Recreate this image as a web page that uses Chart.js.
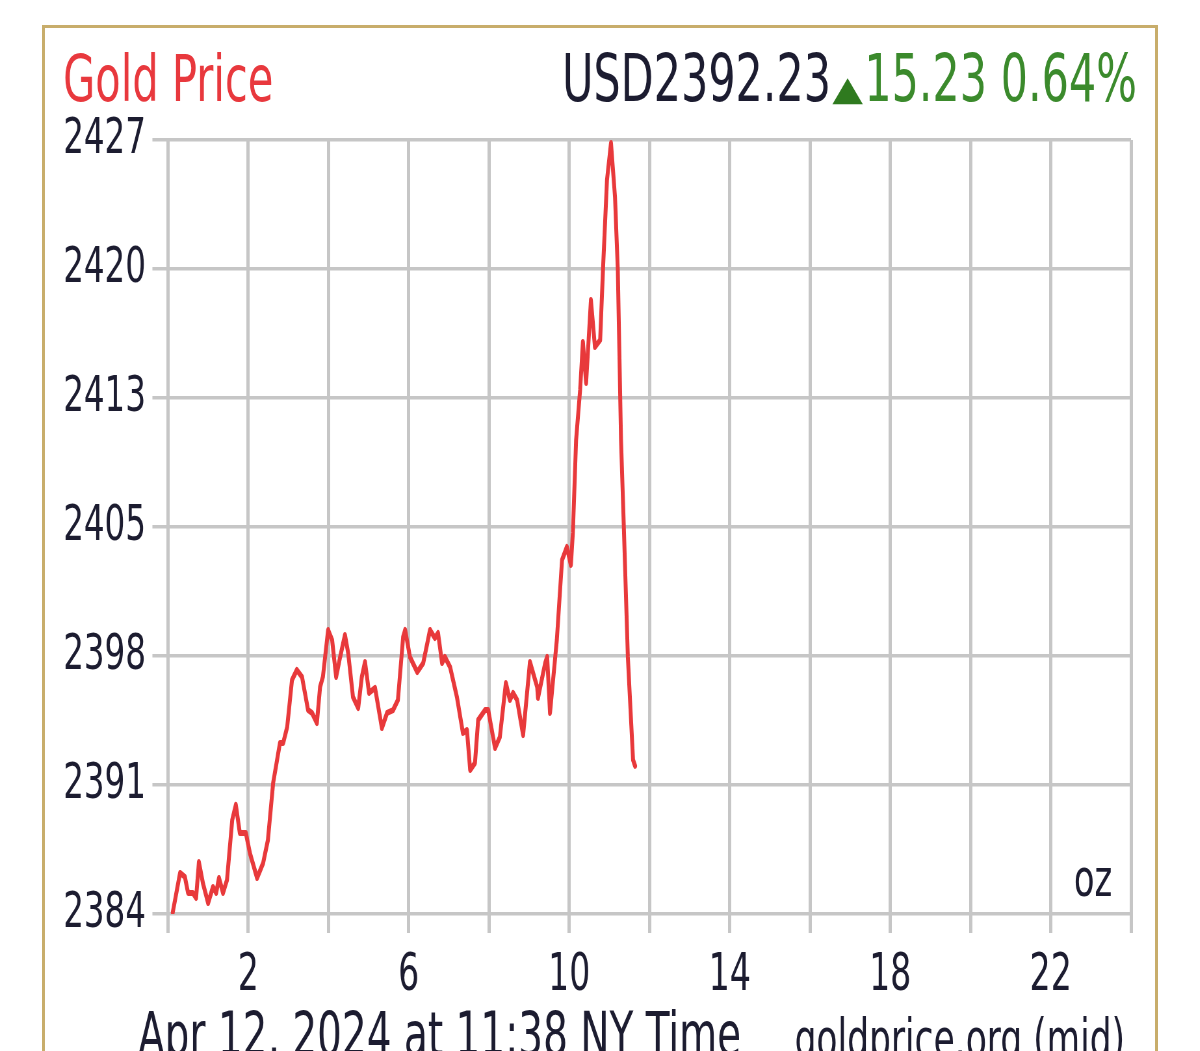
<!DOCTYPE html>
<html>
<head>
<meta charset="utf-8">
<script src="https://cdn.jsdelivr.net/npm/chart.js@4/dist/chart.umd.min.js"></script>
<style>
  html, body { margin: 0; background: #fff; overflow: hidden; }
  #page { position: relative; width: 1200px; height: 1051px; }
  #frame { position: absolute; left: 42px; top: 25px; width: 1110px; height: 1100px; border: 3px solid #c8ad6b; }
  /* the source image is horizontally squeezed, so draw wide and squeeze the canvas */
  #chart { position: absolute; left: 0; top: 0; transform: scaleX(0.65); transform-origin: 0 0; }
</style>
</head>
<body>
<div id="page">
  <div id="frame"></div>
  <canvas id="chart" width="1846" height="1051"></canvas>
</div>
<script>
// hours after midnight (NY time), Apr 12 2024
const hours = [
  0.12, 0.30, 0.42, 0.50, 0.62, 0.70, 0.77, 0.87, 1.00, 1.12,
  1.20, 1.27, 1.37, 1.47, 1.60, 1.69, 1.79, 1.94, 2.04, 2.22,
  2.37, 2.49, 2.62, 2.79, 2.87, 2.97, 3.09, 3.21, 3.34, 3.49,
  3.59, 3.71, 3.79, 3.86, 3.99, 4.09, 4.19, 4.29, 4.41, 4.49,
  4.61, 4.74, 4.83, 4.91, 5.01, 5.16, 5.33, 5.46, 5.61, 5.73,
  5.86, 5.91, 6.03, 6.21, 6.36, 6.53, 6.65, 6.73, 6.83, 6.90,
  7.03, 7.20, 7.35, 7.45, 7.53, 7.65, 7.73, 7.90, 7.98, 8.15,
  8.27, 8.42, 8.52, 8.60, 8.70, 8.85, 9.02, 9.20, 9.22, 9.40,
  9.45, 9.52, 9.69, 9.82, 9.94, 10.04, 10.09, 10.17, 10.27, 10.34,
  10.42, 10.54, 10.64, 10.77, 10.84, 10.94, 11.04, 11.14, 11.21, 11.29,
  11.36, 11.46, 11.59, 11.64,
];

// USD per oz
const prices = [
  2384.11, 2386.28, 2386.06, 2385.17, 2385.17, 2384.89, 2386.89, 2385.72, 2384.61, 2385.50,
  2385.17, 2386.00, 2385.17, 2385.89, 2389.22, 2390.06, 2388.50, 2388.50, 2387.39, 2386.00,
  2386.83, 2388.11, 2391.28, 2393.50, 2393.50, 2394.39, 2397.00, 2397.56, 2397.17, 2395.33,
  2395.17, 2394.61, 2396.61, 2397.17, 2399.78, 2399.22, 2397.17, 2398.28, 2399.50, 2398.50,
  2396.06, 2395.44, 2397.17, 2398.00, 2396.28, 2396.56, 2394.33, 2395.17, 2395.33, 2395.89,
  2399.39, 2399.78, 2398.28, 2397.44, 2397.94, 2399.78, 2399.33, 2399.61, 2397.94, 2398.28,
  2397.72, 2396.06, 2394.06, 2394.22, 2392.00, 2392.39, 2394.78, 2395.33, 2395.33, 2393.22,
  2393.83, 2396.83, 2395.89, 2396.28, 2395.89, 2393.94, 2398.00, 2396.61, 2396.00, 2397.94,
  2398.28, 2395.17, 2399.22, 2403.67, 2404.39, 2403.39, 2405.17, 2410.33, 2413.11, 2415.78,
  2413.50, 2418.11, 2415.50, 2415.89, 2419.78, 2424.78, 2426.83, 2423.83, 2419.78, 2410.33,
  2405.50, 2398.28, 2392.56, 2392.23,
];

const yMin = 2384;
const yMax = 2427;
const yTickLabels = ["2384", "2391", "2398", "2405", "2413", "2420", "2427"];
const xTickLabels = ["2", "6", "10", "14", "18", "22"];

const TITLE = "Gold Price";
const QUOTE_PRICE = "USD2392.23";
const QUOTE_ARROW = "\u25B2";
const QUOTE_CHANGE = "15.23 0.64%";
const UNIT = "oz";
const FOOT_LEFT = "Apr 12, 2024 at 11:38 NY Time";
const FOOT_RIGHT = "goldprice.org (mid)";

const SQUEEZE = 0.65;          // must match the css scaleX
const FONT = "'DejaVu Sans', Verdana, sans-serif";
const INK = "#1c1c30";
const px = x => x / SQUEEZE;   // page x -> canvas x

const COLORS = {
  line: "#e8393b",
  grid: "#c6c6c6",
  title: "#e8383d",
  green: "#3b8a2c",
  arrow: "#2f7a1f",
};

const textPlugin = {
  id: "goldText",
  afterDraw(chart) {
    const ctx = chart.ctx;
    ctx.save();
    ctx.textBaseline = "alphabetic";

    ctx.fillStyle = COLORS.title;
    ctx.font = `64px ${FONT}`;
    ctx.textAlign = "left";
    ctx.fillText(TITLE, px(63), 101);

    // quote, right aligned as one run
    const right = px(1137);
    ctx.font = `66px ${FONT}`;
    const w1 = ctx.measureText(QUOTE_PRICE).width;
    const w3 = ctx.measureText(QUOTE_CHANGE).width;
    ctx.font = `34px ${FONT}`;
    const arrowStretch = 1.8;
    const w2 = ctx.measureText(QUOTE_ARROW).width * arrowStretch + 4;
    let x = right - (w1 + w2 + w3);
    ctx.font = `66px ${FONT}`;
    ctx.fillStyle = INK;
    ctx.fillText(QUOTE_PRICE, x, 101);
    x += w1;
    ctx.save();
    ctx.translate(x + 2, 100);
    ctx.scale(arrowStretch, 1);
    ctx.font = `34px ${FONT}`;
    ctx.fillStyle = COLORS.arrow;
    ctx.fillText(QUOTE_ARROW, 0, 0);
    ctx.restore();
    x += w2;
    ctx.font = `66px ${FONT}`;
    ctx.fillStyle = COLORS.green;
    ctx.fillText(QUOTE_CHANGE, x, 101);

    ctx.fillStyle = INK;
    ctx.font = `52px ${FONT}`;
    ctx.textAlign = "center";
    ctx.fillText(UNIT, px(1093), 896);

    ctx.font = `60px ${FONT}`;
    ctx.textAlign = "left";
    ctx.fillText(FOOT_LEFT, px(138), 1055);
    ctx.font = `53px ${FONT}`;
    ctx.textAlign = "right";
    ctx.fillText(FOOT_RIGHT, px(1125), 1057);
    ctx.restore();
  },
};

const canvas = document.getElementById("chart");
const plotLeft = px(168);
const plotRight = px(1131);

new Chart(canvas, {
  type: "line",
  data: {
    datasets: [{
      data: hours.map((h, i) => ({ x: h, y: prices[i] })),
      borderColor: COLORS.line,
      borderWidth: 6,
      borderJoinStyle: "round",
      borderCapStyle: "round",
      pointRadius: 0,
      tension: 0,
      fill: false,
    }],
  },
  options: {
    responsive: false,
    animation: false,
    layout: { padding: { top: 140, left: 0, right: canvas.width - plotRight, bottom: 0 } },
    plugins: { legend: { display: false }, tooltip: { enabled: false } },
    scales: {
      x: {
        type: "linear",
        min: 0,
        max: 24,
        afterFit: s => { s.height = 1051 - 914; },
        border: { display: false },
        grid: { color: COLORS.grid, lineWidth: 5, tickLength: 19 },
        ticks: {
          stepSize: 2,
          autoSkip: false,
          maxRotation: 0,
          padding: 13,
          color: INK,
          font: { family: FONT, size: 51 },
          callback: v => (xTickLabels.includes(String(v)) ? String(v) : ""),
        },
      },
      y: {
        min: yMin,
        max: yMax,
        afterFit: s => { s.width = plotLeft; },
        afterBuildTicks: s => {
          const n = yTickLabels.length;
          s.ticks = yTickLabels.map((_, i) => ({ value: yMin + (i * (yMax - yMin)) / (n - 1) }));
        },
        border: { display: false },
        grid: { color: COLORS.grid, lineWidth: 3.5, tickLength: 24 },
        ticks: {
          padding: 10,
          color: INK,
          font: { family: FONT, size: 50 },
          callback: (v, i) => yTickLabels[i],
        },
      },
    },
  },
  plugins: [textPlugin],
});
</script>
</body>
</html>
